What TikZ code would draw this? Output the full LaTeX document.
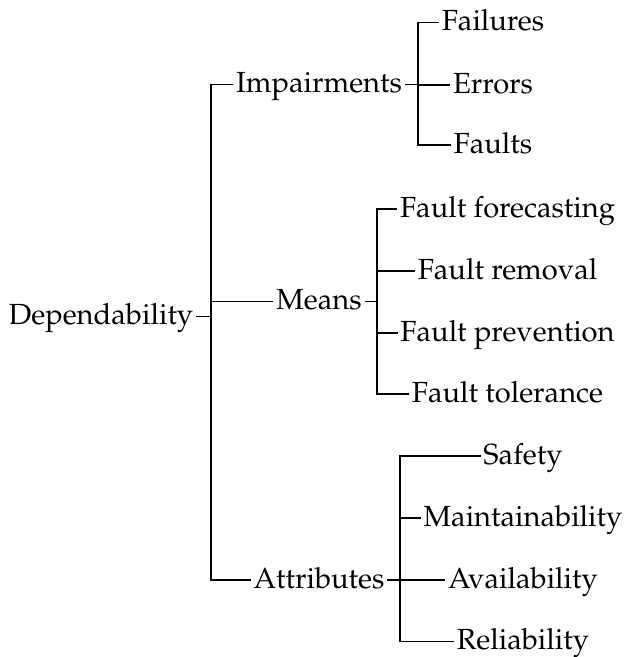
\documentclass[tikz,border=0pt]{standalone}
\usepackage[T1]{fontenc}
\usepackage{mathpazo}
\begin{document}
\begin{tikzpicture}[x=0.3436pt,y=-0.3436pt,
  lbl/.style={font=\fontsize{10}{12}\selectfont, text height=7.4pt, text depth=1.8pt, inner xsep=1pt, inner ysep=0pt, outer sep=0pt, anchor=center},
  conn/.style={line width=0.4pt}]
\useasboundingbox (0,0) rectangle (624,657);
% root
\node[lbl] (dep) at (101,316.7) {Dependability};
% level 1
\node[lbl] (imp) at (319,84.5) {Impairments};
\node[lbl] (means) at (319,301.7) {Means};
\node[lbl] (attr) at (319,580) {Attributes};
% level 2
\node[lbl] (fail) at (493,22.5) {Failures};
\node[lbl] (err) at (493,85) {Errors};
\node[lbl] (flt) at (493,145) {Faults};
\node[lbl] (ff) at (507.5,209) {Fault forecasting};
\node[lbl] (fr) at (507.5,271) {Fault removal};
\node[lbl] (fp) at (507.5,333) {Fault prevention};
\node[lbl] (ft) at (507.5,394) {Fault tolerance};
\node[lbl] (saf) at (523,456) {Safety};
\node[lbl] (mai) at (523,518) {Maintainability};
\node[lbl] (ava) at (523,580) {Availability};
\node[lbl] (rel) at (523,641.5) {Reliability};
% junctions
\coordinate (j0) at (211,316.7);
\coordinate (j1) at (418,84.5);
\coordinate (j2) at (377,301.7);
\coordinate (j3) at (400,580);
% connectors
\draw[conn] (dep.east) -- (j0);
\draw[conn] (j0) |- (imp.west);
\draw[conn] (j0) |- (means.west);
\draw[conn] (j0) |- (attr.west);
\draw[conn] (imp.east) -- (j1);
\draw[conn] (j1) |- (fail.west);
\draw[conn] (j1) |- (err.west);
\draw[conn] (j1) |- (flt.west);
\draw[conn] (means.east) -- (j2);
\draw[conn] (j2) |- (ff.west);
\draw[conn] (j2) |- (fr.west);
\draw[conn] (j2) |- (fp.west);
\draw[conn] (j2) |- (ft.west);
\draw[conn] (attr.east) -- (j3);
\draw[conn] (j3) |- (saf.west);
\draw[conn] (j3) |- (mai.west);
\draw[conn] (j3) |- (ava.west);
\draw[conn] (j3) |- (rel.west);
\end{tikzpicture}
\end{document}
